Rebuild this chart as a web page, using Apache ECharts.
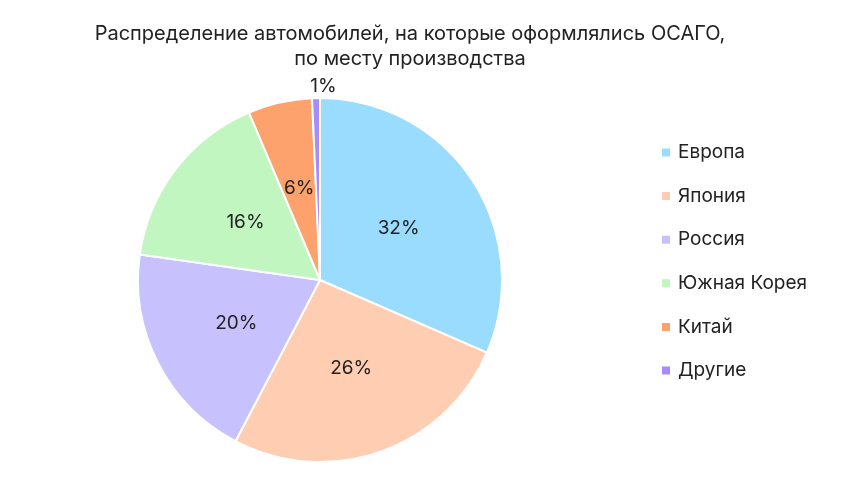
<!DOCTYPE html>
<html><head><meta charset="utf-8">
<script src="https://cdn.jsdelivr.net/npm/echarts@6/dist/echarts.min.js"></script>
<style>html,body{margin:0;padding:0;background:#fff}#c{width:860px;height:484px}</style>
</head><body><div id="c"></div>
<script>
const categories = ['Европа', 'Япония', 'Россия', 'Южная Корея', 'Китай', 'Другие'];
const shares = [31.6, 26.2, 19.6, 16.4, 5.7, 0.7];
const colors = ['#99DCFD', '#FECDB2', '#C7C2FD', '#C1F6C1', '#FDA26C', '#A78BFA'];
const titleText = 'Распределение автомобилей, на которые оформлялись ОСАГО,\nпо месту производства';

const font = 'Inter, "Noto Sans", sans-serif';
const data = categories.map((n, i) => {
  const d = { name: n, value: shares[i], itemStyle: { color: colors[i] } };
  if (i === categories.length - 1) {
    d.label = { position: 'outside', distance: 4, offset: [56, 3] };
    d.labelLine = { show: false };
  }
  return d;
});
const chart = echarts.init(document.getElementById('c'));
chart.setOption({
  animation: false,
  title: {
    text: titleText, left: 405, top: 16, textAlign: 'center',
    textStyle: { fontFamily: font, fontSize: 20, fontWeight: 'normal', color: '#222', lineHeight: 25 }
  },
  legend: {
    orient: 'vertical', left: 655, top: 138, itemGap: 24.6,
    icon: 'rect', itemWidth: 10, itemHeight: 10,
    textStyle: { fontFamily: font, fontSize: 19, color: '#222', padding: [0, 0, 0, 2] },
    data: categories
  },
  series: [{
    type: 'pie', center: [320, 280], radius: 182, startAngle: 90, clockwise: true,
    itemStyle: { borderColor: '#fff', borderWidth: 2 },
    label: {
      show: true, position: 'inside',
      formatter: p => Math.round(p.value) + '%',
      fontFamily: font, fontSize: 19, color: '#222'
    },
    labelLine: { show: false },
    data: data
  }]
});
</script></body></html>
